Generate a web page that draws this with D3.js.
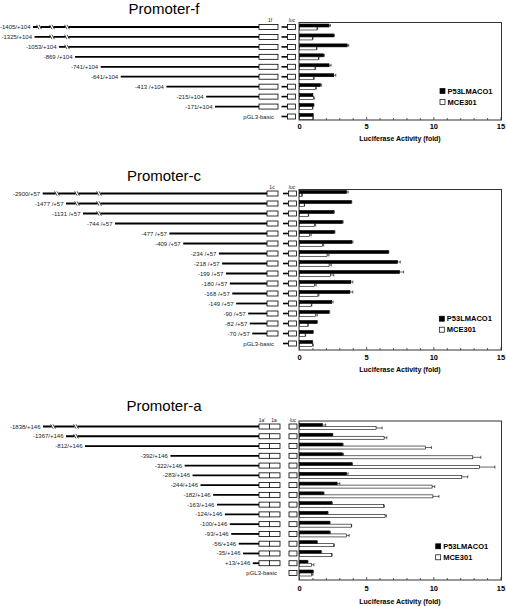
<!DOCTYPE html>
<html><head><meta charset="utf-8">
<script src="https://cdn.jsdelivr.net/npm/d3@7"></script>
<style>body{margin:0;background:#fff}svg{display:block}text{font-family:"Liberation Sans",Arial,sans-serif}</style>
</head><body><div id="c"></div>
<script>
// ---------- DATA ----------
const fLabels = ["-1405/+104","-1325/+104","-1053/+104","-869 /+104","-741/+104","-641/+104","-413 /+104","-215/+104","-171/+104","pGL3-basic"];
const fStarts = [-1405,-1325,-1053,-869,-741,-641,-413,-215,-171,null];
const fBlack = [2.2,2.55,3.55,1.8,2.2,2.55,1.55,1.0,1.05,1.0];
const fBlackErr = [0.1,0.05,0.12,0.05,0.15,0.15,0.1,0.02,0.03,0.03];
const fWhite = [1.3,0.95,1.25,1.4,1.15,1.05,1.2,1.05,0.95,1.0];
const fWhiteErr = [0.05,0.05,0.05,0.05,0.05,0.05,0.05,0.05,0.05,0.03];

const cLabels = ["-2900/+57","-1477 /+57","-1131 /+57","-744 /+57","-477 /+57","-409 /+57","-234 /+57","-218 /+57","-199 /+57","-180 /+57","-168 /+57","-149 /+57","-90 /+57","-82 /+57","-70 /+57","pGL3-basic"];
const cStarts = [-2900,-1477,-1131,-744,-477,-409,-234,-218,-199,-180,-168,-149,-90,-82,-70,null];
const cBlack = [3.5,3.85,2.55,3.2,2.6,3.9,6.62,7.3,7.45,3.82,3.75,2.4,2.2,1.3,1.0,0.95];
const cBlackErr = [0.12,0.04,0.05,0.05,0.04,0.08,0.03,0.2,0.3,0.15,0.22,0.1,0.05,0.03,0.03,0.03];
const cWhite = [0.17,0.35,0.65,1.12,0.75,1.7,2.05,2.2,2.3,1.12,1.37,0.87,1.2,0.62,0.42,0.95];
const cWhiteErr = [0.05,0.03,0.03,0.08,0.12,0.1,0.15,0.17,0.25,0.12,0.08,0.05,0.12,0.03,0.03,0.08];

const aLabels = ["-1838/+146","-1367/+146","-812/+146","-392/+146","-322/+146","-283/+146","-244/+146","-182/+146","-163/+146","-124/+146","-100/+146","-93/+146","-56/+146","-35/+146","+13/+146","pGL3-basic"];
const aStarts = [-1838,-1367,-812,-392,-322,-283,-244,-182,-163,-124,-100,-93,-56,-35,13,null];
const aBlack = [1.7,2.45,3.2,3.2,3.9,3.5,2.8,1.8,2.4,2.1,2.25,2.25,1.3,1.6,0.6,1.0];
const aBlackErr = [0.25,0.03,0.05,0.08,0.05,0.12,0.2,0.03,0.05,0.03,0.03,0.05,0.03,0.05,0.03,0.03];
const aWhite = [5.7,6.3,9.37,12.9,13.4,12.08,9.87,9.93,6.27,6.37,3.85,3.5,2.55,2.4,0.9,0.9];
const aWhiteErr = [0.45,0.2,0.45,0.6,1.15,0.45,0.2,0.45,0.05,0.1,0.03,0.2,0.05,0.03,0.17,0.1];

const xTicks = [0,5,10,15];
const seriesNames = ["P53LMACO1","MCE301"];
const axisTitle = "Luciferase Activity (fold)";

// ---------- DRAW ----------
const W = 506, H = 606;
const svg = d3.select("#c").append("svg").attr("width", W).attr("height", H);

function panel(cfg) {
  const g = svg.append("g");
  const n = cfg.labels.length;
  const y = d3.scaleLinear().domain([0, n - 1]).range([cfg.rowTop, cfg.rowBottom]);
  const x = d3.scaleLinear().domain([0, 15]).range([299.5, 501]);
  const bp = d3.scaleLinear().domain(cfg.bpDomain).range(cfg.bpRange);

  // title
  g.append("text").attr("x", 164).attr("y", cfg.titleY).attr("text-anchor", "middle")
    .attr("font-size", 15).text(cfg.title);

  // box labels
  cfg.boxLabels.forEach(b => g.append("text").attr("x", b[1]).attr("y", cfg.rowTop - 5)
    .attr("text-anchor", "middle").attr("font-size", 5).attr("fill", "#222")
    .attr("font-style", b[0] === "luc" ? "italic" : "normal").text(b[0]));

  // constructs
  cfg.labels.forEach((lab, i) => {
    const cy = y(i);
    const s = cfg.starts[i];
    let textEnd;
    if (s !== null) {
      const sx = bp(s);
      g.append("line").attr("x1", sx).attr("x2", cfg.promBox[0]).attr("y1", cy).attr("y2", cy)
        .attr("stroke", "#000").attr("stroke-width", 1.8);
      cfg.breaks.filter(bx => bx - sx >= 5).forEach(bx => {
        g.append("rect").attr("x", bx - 1.5).attr("y", cy - 1.5).attr("width", 3).attr("height", 3).attr("fill", "#fff");
        [-1.2, 1.2].forEach(o => g.append("line").attr("x1", bx + o - 1.2).attr("x2", bx + o + 1.2)
          .attr("y1", cy - 2.2).attr("y2", cy + 2.2).attr("stroke", "#000").attr("stroke-width", 0.7));
      });
      g.append("rect").attr("x", cfg.promBox[0]).attr("y", cy - 2.5).attr("width", cfg.promBox[1] - cfg.promBox[0])
        .attr("height", 5).attr("fill", "#fff").attr("stroke", "#000").attr("stroke-width", 0.8);
      if (cfg.divider) g.append("line").attr("x1", cfg.divider).attr("x2", cfg.divider).attr("y1", cy - 2.5).attr("y2", cy + 2.5)
        .attr("stroke", "#000").attr("stroke-width", 0.8);
      textEnd = sx - 2.5;
    } else {
      textEnd = cfg.basicEnd;
    }
    if (cfg.connector) g.append("line").attr("x1", cfg.connector[0]).attr("x2", cfg.connector[1]).attr("y1", cy).attr("y2", cy)
      .attr("stroke", "#000").attr("stroke-width", 1.6);
    g.append("rect").attr("x", cfg.lucBox[0]).attr("y", cy - 2.5).attr("width", cfg.lucBox[1] - cfg.lucBox[0])
      .attr("height", 5).attr("fill", "#fff").attr("stroke", "#000").attr("stroke-width", 0.8);
    g.append("text").attr("x", textEnd).attr("y", cy + 2).attr("text-anchor", "end")
      .attr("font-size", 6).attr("fill", "#222").text(lab);
  });

  // frame
  g.append("rect").attr("x", 299).attr("y", cfg.frameTop).attr("width", 202.5).attr("height", cfg.frameBottom - cfg.frameTop)
    .attr("fill", "none").attr("stroke", "#333").attr("stroke-width", 1);

  // bars
  const bh = 3;
  const drawSeries = (vals, errs, fill, off) => {
    vals.forEach((v, i) => {
      const cy = y(i) + off;
      g.append("rect").attr("x", x(0)).attr("y", cy).attr("width", x(v) - x(0)).attr("height", bh)
        .attr("fill", fill).attr("stroke", "#000").attr("stroke-width", 0.6);
      const e = errs[i];
      if (e > 0.02) {
        g.append("line").attr("x1", x(v)).attr("x2", x(v + e)).attr("y1", cy + bh / 2).attr("y2", cy + bh / 2)
          .attr("stroke", "#000").attr("stroke-width", 0.6);
        g.append("line").attr("x1", x(v + e)).attr("x2", x(v + e)).attr("y1", cy).attr("y2", cy + bh)
          .attr("stroke", "#000").attr("stroke-width", 0.6);
      }
    });
  };
  drawSeries(cfg.black, cfg.blackErr, "#000", -3);
  drawSeries(cfg.white, cfg.whiteErr, "#fff", 0);

  // x axis ticks (inward) and labels
  d3.range(0, 16).forEach(t => {
    const major = xTicks.includes(t);
    g.append("line").attr("x1", x(t)).attr("x2", x(t)).attr("y1", cfg.frameBottom).attr("y2", cfg.frameBottom - (major ? 3 : 2))
      .attr("stroke", "#333").attr("stroke-width", 0.8);
  });
  xTicks.forEach(t => g.append("text").attr("x", x(t)).attr("y", cfg.tickY).attr("text-anchor", "middle")
    .attr("font-size", 7.5).attr("font-weight", "bold").text(t));
  g.append("text").attr("x", 400).attr("y", cfg.axisTitleY).attr("text-anchor", "middle")
    .attr("font-size", 7).attr("font-weight", "bold").text(axisTitle);

  // legend
  seriesNames.forEach((nm, k) => {
    const ly = cfg.legendY + k * 11;
    g.append("rect").attr("x", cfg.legendX).attr("y", ly - 2.5).attr("width", 5).attr("height", 5)
      .attr("fill", k === 0 ? "#000" : "#fff").attr("stroke", "#000").attr("stroke-width", 0.7);
    g.append("text").attr("x", cfg.legendX + 7.5).attr("y", ly + 2.7).attr("font-size", 7.5)
      .attr("font-weight", "bold").text(nm);
  });
}

panel({
  title: "Promoter-f", titleY: 14, labels: fLabels, starts: fStarts,
  black: fBlack, blackErr: fBlackErr, white: fWhite, whiteErr: fWhiteErr,
  rowTop: 27, rowBottom: 116.5,
  bpDomain: [-1405, -1325, -1053, -869, 0], bpRange: [33, 34.5, 59, 75, 249.3],
  breaks: [39, 52, 67], promBox: [259, 278], divider: null, connector: [281.5, 287.5], lucBox: [287.5, 295.5],
  boxLabels: [["1f", 270], ["luc", 292]], basicEnd: 274,
  frameTop: 22.5, frameBottom: 120, tickY: 129, axisTitleY: 141,
  legendX: 440, legendY: 91
});

panel({
  title: "Promoter-c", titleY: 181, labels: cLabels, starts: cStarts,
  black: cBlack, blackErr: cBlackErr, white: cWhite, whiteErr: cWhiteErr,
  rowTop: 193.5, rowBottom: 343.5,
  bpDomain: [-2900, -1477, -1131, -744, 0], bpRange: [42.7, 66, 83, 115, 266.5],
  breaks: [57, 77, 99], promBox: [267, 278], divider: null, connector: [283, 288.5], lucBox: [288.5, 296.5],
  boxLabels: [["1c", 272], ["luc", 292]], basicEnd: 274,
  frameTop: 189.5, frameBottom: 350, tickY: 360, axisTitleY: 372,
  legendX: 439.3, legendY: 318.7
});

panel({
  title: "Promoter-a", titleY: 411, labels: aLabels, starts: aStarts,
  black: aBlack, blackErr: aBlackErr, white: aWhite, whiteErr: aWhiteErr,
  rowTop: 426.5, rowBottom: 573,
  bpDomain: [-1838, -1367, -812, 0], bpRange: [43, 66, 85, 250.1],
  breaks: [53, 76], promBox: [259, 280], divider: 269.5, connector: null, lucBox: [289, 297],
  boxLabels: [["1a'", 262], ["1a", 274], ["luc", 293]], basicEnd: 277,
  frameTop: 421, frameBottom: 580, tickY: 590.5, axisTitleY: 604,
  legendX: 435.7, legendY: 546.3
});
</script></body></html>
